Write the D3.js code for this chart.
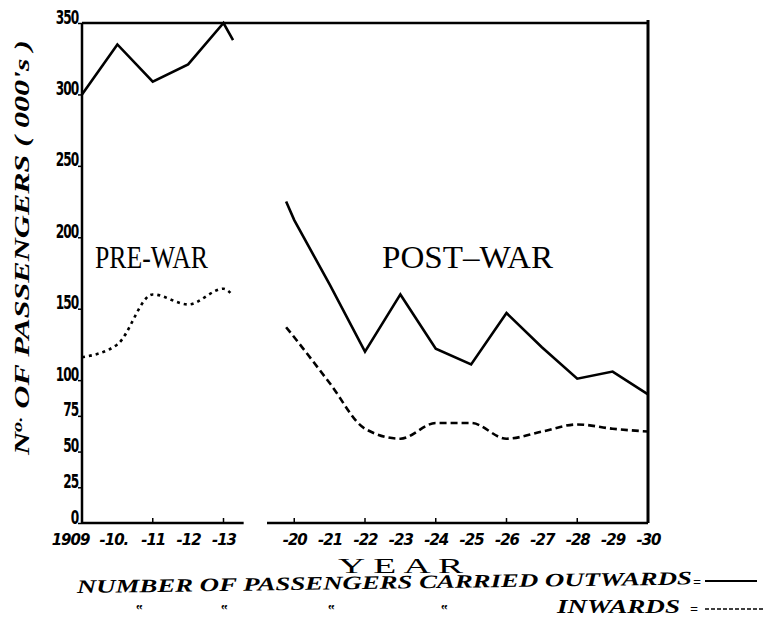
<!DOCTYPE html>
<html lang="en">
<head>
  <meta charset="UTF-8">
  <title>Passengers Carried Outwards and Inwards</title>
  <script src="https://d3js.org/d3.v7.min.js"></script>
  <style>
    body { margin: 0; background: #fff; }
    svg { display: block; background: #fff; }
    .line { fill: none; stroke: #000; stroke-width: 2.6px; }
    .ytick text { font-family: "DejaVu Sans", sans-serif; font-weight: bold; font-size: 19px; letter-spacing: -1.5px; }
    .xtick text { font-family: "DejaVu Sans", sans-serif; font-weight: bold; font-style: italic; font-size: 15px; letter-spacing: -1px; }
    .era { font-family: "Liberation Serif", serif; font-size: 31px; }
    .cap { font-family: "Liberation Serif", serif; font-weight: bold; font-style: italic; }
    .year { font-family: "Liberation Serif", serif; font-size: 22px; }
  </style>
</head>
<body>
  <svg width="764" height="619"></svg>

  <script>
    // values (thousands of passengers)
    const preYears = [1909, 1910, 1911, 1912, 1913];
    const preOutwards = [300, 335, 309, 321, 350];
    const preInwards = [116, 125, 160, 153, 164];
    // the pen runs on a little past 1913 before the war break
    const preTail = {year: 1913.27, outwards: 338, inwards: 159};

    const postYears = [1920, 1921, 1922, 1923, 1924, 1925, 1926, 1927, 1928, 1929, 1930];
    const postOutwards = [212, 167, 120, 160, 122, 111, 147, 123, 101, 106, 90];
    const postInwards = [130, 98, 66, 59, 70, 70, 59, 64, 69, 66, 64];
    // and starts a little before 1920
    const postHead = {year: 1919.77, outwards: 225, inwards: 137};

    const preLabels = ["1909", "-10.", "-11", "-12", "-13"];
    const postLabels = ["-20", "-21", "-22", "-23", "-24", "-25", "-26", "-27", "-28", "-29", "-30"];
    const markedYears = [1911, 1913, 1920, 1922, 1924, 1926, 1928];
    const yTicks = [0, 25, 50, 75, 100, 150, 200, 250, 300, 350];
    const axisBreak = [1913.57, 1919.23];

    const svg = d3.select("svg");
    const plotL = 82, plotR = 648, plotT = 23, plotB = 523;
    const step = (plotR - plotL) / 16;

    // 1914-1919 are squeezed out of the x axis
    const x = d3.scaleLinear()
      .domain([1909, 1914, 1919, 1930])
      .range([plotL, plotL + 5 * step, plotL + 5 * step, plotR]);
    const y = d3.scaleLinear().domain([0, 350]).range([plotB, plotT]);

    const allYears = preYears.concat(postYears);
    const allLabels = preLabels.concat(postLabels);

    // frame
    svg.append("line").attr("x1", plotL).attr("x2", plotR).attr("y1", y(350)).attr("y2", y(350))
      .attr("stroke", "#000").attr("stroke-width", 2.5);
    svg.append("line").attr("x1", plotR).attr("x2", plotR).attr("y1", plotT - 3).attr("y2", plotB)
      .attr("stroke", "#000").attr("stroke-width", 3);
    svg.append("line").attr("x1", plotL).attr("x2", plotL).attr("y1", plotT).attr("y2", plotB)
      .attr("stroke", "#000").attr("stroke-width", 2.5);
    [[1909, axisBreak[0]], [axisBreak[1], 1930]].forEach(s => {
      svg.append("line").attr("x1", x(s[0])).attr("x2", x(s[1])).attr("y1", plotB).attr("y2", plotB)
        .attr("stroke", "#000").attr("stroke-width", 2.5);
    });

    // y axis (labels squeezed sideways like the hand lettering)
    const yAxis = svg.append("g").attr("class", "ytick")
      .attr("transform", `translate(${plotL},0)`)
      .call(d3.axisLeft(y).tickValues(yTicks).tickSize(4).tickPadding(0));
    yAxis.select(".domain").remove();
    yAxis.selectAll("line").attr("stroke-width", 1.5);
    yAxis.selectAll("text").attr("dy", "0").attr("x", -6).attr("fill", "#000")
      .attr("transform", "scale(0.64,1)");

    // x axis
    const xAxis = svg.append("g").attr("class", "xtick")
      .attr("transform", `translate(0,${plotB})`)
      .call(d3.axisBottom(x).tickValues(allYears).tickSize(0).tickPadding(22)
        .tickFormat(d => allLabels[allYears.indexOf(d)]));
    xAxis.select(".domain").remove();
    xAxis.selectAll("text").attr("dy", "0").attr("fill", "#000")
      .attr("dx", d => d === 1909 ? -12 : (d === 1910 ? -4 : 0));

    svg.selectAll(".mark").data(markedYears).enter().append("line")
      .attr("class", "mark")
      .attr("x1", d => x(d)).attr("x2", d => x(d))
      .attr("y1", plotB).attr("y2", plotB - 5)
      .attr("stroke", "#000").attr("stroke-width", 1.5);

    // series
    const pre = preYears.map((yr, i) => ({year: yr, out: preOutwards[i], inw: preInwards[i]}))
      .concat([{year: preTail.year, out: preTail.outwards, inw: preTail.inwards}]);
    const post = [{year: postHead.year, out: postHead.outwards, inw: postHead.inwards}]
      .concat(postYears.map((yr, i) => ({year: yr, out: postOutwards[i], inw: postInwards[i]})));

    const outLine = d3.line().x(d => x(d.year)).y(d => y(d.out));
    const inLine = d3.line().x(d => x(d.year)).y(d => y(d.inw)).curve(d3.curveMonotoneX);

    svg.append("path").datum(pre).attr("class", "line").attr("d", outLine);
    svg.append("path").datum(post).attr("class", "line").attr("d", outLine);
    svg.append("path").datum(pre).attr("class", "line")
      .attr("stroke-dasharray", "3,4").attr("d", inLine);
    svg.append("path").datum(post).attr("class", "line")
      .attr("stroke-dasharray", "7,4").attr("d", inLine);

    // labels
    svg.append("text").attr("class", "era").attr("x", 95).attr("y", 268)
      .attr("textLength", 113).attr("lengthAdjust", "spacingAndGlyphs").text("PRE-WAR");
    svg.append("text").attr("class", "era").attr("x", 382).attr("y", 268)
      .attr("textLength", 171).attr("lengthAdjust", "spacingAndGlyphs").text("POST–WAR");

    const yTitle = svg.append("text").attr("class", "cap")
      .attr("transform", "translate(29,455) rotate(-90)")
      .attr("font-size", 22).attr("textLength", 415).attr("lengthAdjust", "spacingAndGlyphs");
    yTitle.append("tspan").text("N");
    yTitle.append("tspan").attr("font-size", 14).attr("dy", -7).text("o.");
    yTitle.append("tspan").attr("dy", 7).text(" OF PASSENGERS ( 000's )");

    svg.append("text").attr("class", "year").attr("x", 338).attr("y", 573)
      .attr("textLength", 125).attr("lengthAdjust", "spacingAndGlyphs").text("Y E A R");

    // key
    svg.append("text").attr("class", "cap").attr("x", 77).attr("y", 593)
      .attr("transform", "rotate(-0.8,77,593)")
      .attr("font-size", 19).attr("textLength", 615).attr("lengthAdjust", "spacingAndGlyphs")
      .text("NUMBER  OF  PASSENGERS  CARRIED  OUTWARDS");
    svg.append("text").attr("class", "cap").attr("x", 693).attr("y", 587).attr("font-size", 14).text("=");
    svg.append("line").attr("x1", 705).attr("x2", 757).attr("y1", 581).attr("y2", 581)
      .attr("stroke", "#000").attr("stroke-width", 2);

    svg.append("text").attr("class", "cap").attr("x", 557).attr("y", 613)
      .attr("font-size", 19).attr("textLength", 123).attr("lengthAdjust", "spacingAndGlyphs")
      .text("INWARDS");
    svg.append("text").attr("class", "cap").attr("x", 690).attr("y", 614).attr("font-size", 14).text("=");
    svg.append("line").attr("x1", 705).attr("x2", 763).attr("y1", 609).attr("y2", 609)
      .attr("stroke", "#000").attr("stroke-width", 1.5).attr("stroke-dasharray", "4,2");

    svg.selectAll(".ditto").data([135, 220, 327, 440]).enter().append("text")
      .attr("class", "cap").attr("x", d => d).attr("y", 615).attr("font-size", 14).text("\u201F");
  </script>
</body>
</html>
